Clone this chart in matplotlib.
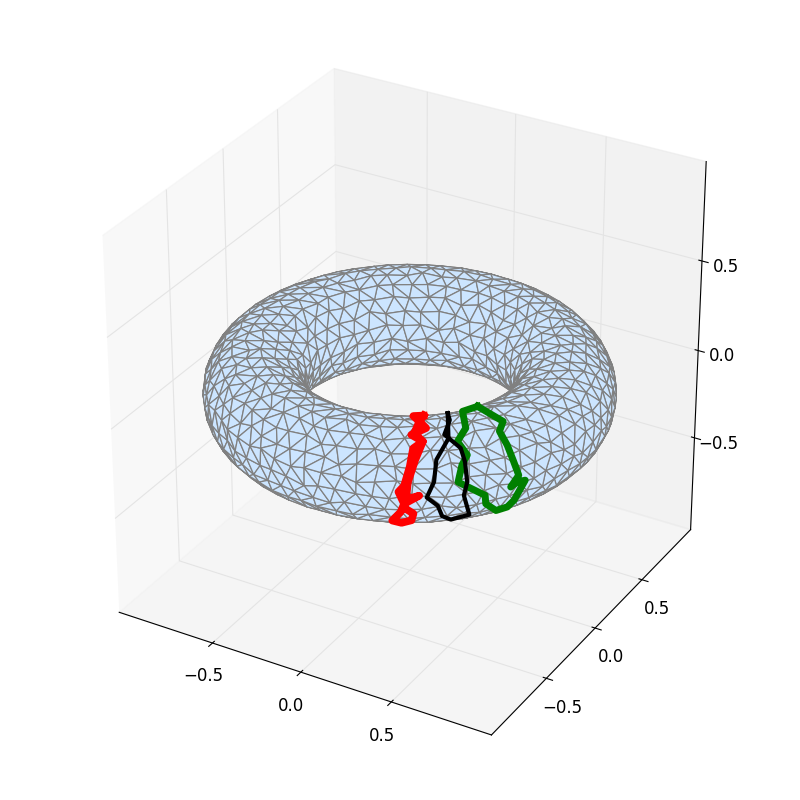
import numpy as np
import matplotlib
matplotlib.use("Agg")
import matplotlib.pyplot as plt
from mpl_toolkits.mplot3d.art3d import Poly3DCollection

# Torus size and mesh density
R = 0.75
r = 0.25
n_minor = 22
n_outer = 72

axis_limit = 1.04
tick_values = [-0.5, 0, 0.5]

# Paths on the surface, angles in degrees
red_phi = [-54, -58.5, -56.5, -54.5, -59.5, -56, -59, -60, -61.5, -63, -61.5, -62.5, -65, -62.5, -59.5, -59, -61, -61.5, -57.5, -61, -60.5, -58.5, -56, -58.5, -56.5, -54]
red_theta = [121, 116.5, 94, 80.5, 71, 62, 54, 34, 13.5, 6.5, -8.5, -21.5, -42.5, -58.5, -40, -24, -16, -8.5, 2, -2.5, 17.5, 41, 62, 73.5, 94, 121]
green_phi = [-28.5, -38, -41.5, -45.5, -43.5, -45.5, -47, -39.5, -39, -34.5, -31, -30, -27.5, -30, -32, -29.5, -30.5, -31, -31.5, -28.5, -28.5]
green_theta = [124, 111.5, 74, 58.5, 42, 32, 14.5, -6.5, -19.5, -42, -40, -26.5, -0.5, 0.5, -3.5, 8, 25.5, 43.5, 60.5, 71, 124]
black_phi = [-43.5, -45.5, -49, -45, -44.5, -44.5, -45.5, -43, -48, -51, -52.5, -55.5, -53.5, -52.5, -48, -43.5]
black_theta = [120, 91.5, 69, 50.5, 35, 13, -2, -37, -46.5, -32, -12.5, -0.5, 17, 40.5, 63.5, 120]

def torus(phi, th):
    return (R + r*np.cos(th))*np.cos(phi), (R + r*np.cos(th))*np.sin(phi), r*np.sin(th)

def vertex(phi, th):
    # small fixed wobble so the mesh does not read as clean rings
    dth = 0.035*np.sin(17*phi + 5*th) + 0.025*np.sin(29*phi - 9*th)
    dphi = 0.01*np.sin(23*phi + 7*th)
    return torus(phi + dphi, th + dth)

fig = plt.figure(figsize=(8, 8), dpi=100)
ax = fig.add_axes([0.0485, 0.0498, 0.903, 0.903], projection='3d', computed_zorder=False)
ax.set_box_aspect((1, 1, 1))
ax.set_xlim(-axis_limit, axis_limit)
ax.set_ylim(-axis_limit, axis_limit)
ax.set_zlim(-axis_limit, axis_limit)
ax.set_xticks(tick_values)
ax.set_yticks(tick_values)
ax.set_zticks(tick_values)
ax.tick_params(labelsize=12)
for a in (ax.xaxis, ax.yaxis, ax.zaxis):
    a._axinfo['grid']['color'] = '#e4e4e4'

# Rings of vertices, ring size follows the local radius so triangles stay even
rings = []
for j in range(n_minor):
    th = 2*np.pi*j/n_minor
    n = int(round(n_outer*(R + r*np.cos(th))/(R + r)))
    rings.append((th, 0.37*j*2*np.pi/n, n))

tris = []
for j in range(n_minor):
    th0, s0, n0 = rings[j]
    th1, s1, n1 = rings[(j + 1) % n_minor]
    # Zip the two rings together
    k1 = int(np.floor((s0 - s1)/(2*np.pi/n1)))
    done0 = 0
    done1 = 0
    while done0 < n0 or done1 < n1:
        cur0 = s0 + 2*np.pi*done0/n0
        cur1 = s1 + 2*np.pi*(k1 + done1)/n1
        next0 = s0 + 2*np.pi*(done0 + 1)/n0
        next1 = s1 + 2*np.pi*(k1 + done1 + 1)/n1
        if done1 >= n1 or (done0 < n0 and next0 <= next1):
            tris.append([vertex(cur0, th0), vertex(next0, th0), vertex(cur1, th1)])
            done0 += 1
        else:
            tris.append([vertex(cur0, th0), vertex(next1, th1), vertex(cur1, th1)])
            done1 += 1

poly = Poly3DCollection(tris, facecolor='#cce5ff', edgecolor='gray', linewidth=0.9, zorder=1)
ax.add_collection3d(poly)

for phi, theta, color, lw in ((red_phi, red_theta, 'red', 5.5),
                              (green_phi, green_theta, 'green', 5),
                              (black_phi, black_theta, 'black', 3)):
    x, y, z = torus(np.radians(phi), np.radians(theta))
    ax.plot(x, y, z, color=color, linewidth=lw, zorder=3)

fig.savefig("out.png", dpi=100)
